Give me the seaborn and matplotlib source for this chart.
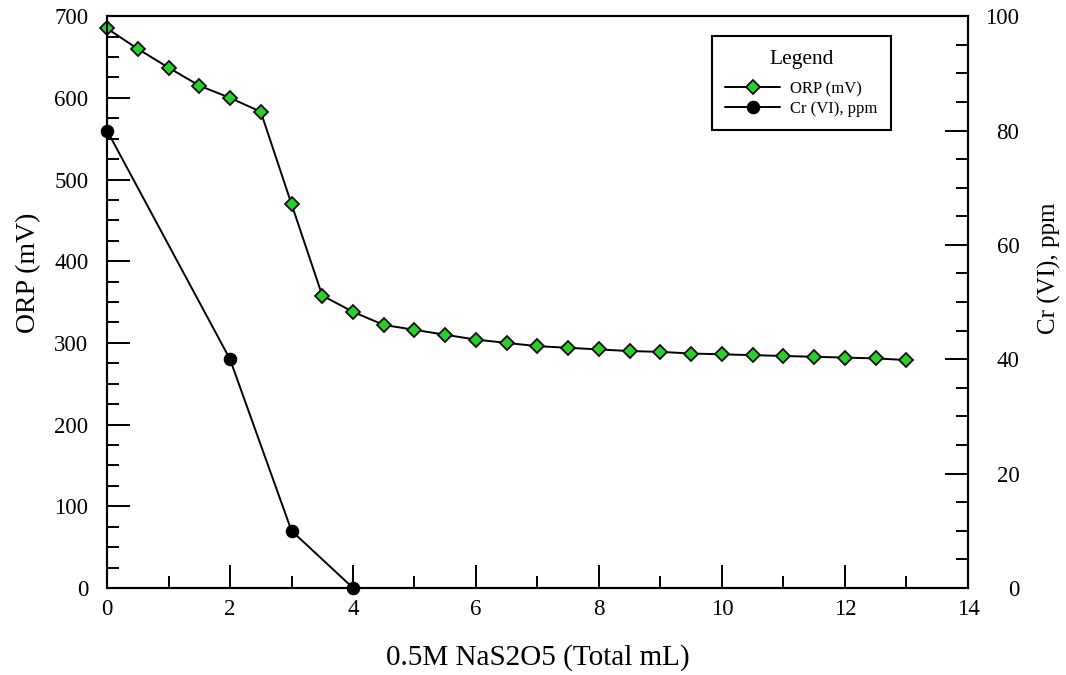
import matplotlib
matplotlib.use("Agg")
import matplotlib.pyplot as plt
import seaborn as sns
import pandas as pd
from matplotlib.ticker import MultipleLocator

# data
orp_ml = [0, 0.5, 1, 1.5, 2, 2.5, 3, 3.5, 4, 4.5, 5, 5.5, 6, 6.5, 7, 7.5,
          8, 8.5, 9, 9.5, 10, 10.5, 11, 11.5, 12, 12.5, 13]
orp_mv = [685, 660, 637, 615, 600, 583, 470, 358, 338, 322, 316, 310, 304,
          300, 296, 294, 292, 290, 289, 287, 286, 285, 284, 283, 282, 281, 279]
cr_ml = [0, 2, 3, 4]
cr_ppm = [80, 40, 10, 0]

sns.set_style("white")
plt.rcParams["font.family"] = ["Liberation Serif", "DejaVu Serif"]
plt.rcParams.update({"text.color": "black", "axes.labelcolor": "black",
                     "xtick.color": "black", "ytick.color": "black"})

df_orp = pd.DataFrame({"mL": orp_ml, "ORP": orp_mv})
df_cr = pd.DataFrame({"mL": cr_ml, "Cr": cr_ppm})

fig = plt.figure(figsize=(10.66, 6.75), dpi=100)
ax = fig.add_axes([0.1004, 0.129, 0.8076, 0.847])
ax2 = ax.twinx()

sns.lineplot(data=df_orp, x="mL", y="ORP", ax=ax, color="black", linewidth=1.4,
             marker="D", markersize=7.5, markerfacecolor="#2ecc2e",
             markeredgecolor="#111111", markeredgewidth=1.3, label="ORP (mV)",
             legend=False, clip_on=False, zorder=5)
sns.lineplot(data=df_cr, x="mL", y="Cr", ax=ax2, color="black", linewidth=1.4,
             marker="o", markersize=9, markerfacecolor="black",
             markeredgecolor="black", label="Cr (VI), ppm", legend=False,
             clip_on=False, zorder=5)

ax.set_xlim(0, 14)
ax.set_ylim(0, 700)
ax2.set_ylim(0, 100)

ax.xaxis.set_major_locator(MultipleLocator(2))
ax.xaxis.set_minor_locator(MultipleLocator(1))
ax.yaxis.set_major_locator(MultipleLocator(100))
ax.yaxis.set_minor_locator(MultipleLocator(25))
ax2.yaxis.set_major_locator(MultipleLocator(20))
ax2.yaxis.set_minor_locator(MultipleLocator(5))

ax.tick_params(axis="x", which="major", direction="in", length=16.5, width=1.4,
               labelsize=16.5, pad=8, bottom=True, top=False)
ax.tick_params(axis="x", which="minor", direction="in", length=8.5, width=1.4,
               bottom=True, top=False)
ax.tick_params(axis="y", which="major", direction="in", length=16.5, width=1.4,
               labelsize=16.5, pad=13.5, left=True, right=False)
ax.tick_params(axis="y", which="minor", direction="in", length=8.5, width=1.4,
               left=True, right=False)
ax2.tick_params(axis="y", which="major", direction="in", length=16.5, width=1.4,
                labelsize=16.5, pad=37, right=True, left=False)
ax2.tick_params(axis="y", which="minor", direction="in", length=8.5, width=1.4,
                right=True, left=False)
for t in ax2.get_yticklabels():
    t.set_horizontalalignment("right")

for a in (ax, ax2):
    for s in a.spines.values():
        s.set_color("black")
        s.set_linewidth(1.5)

ax.set_xlabel("0.5M NaS2O5 (Total mL)", fontsize=21)
ax.xaxis.set_label_coords(0.5, -0.122)
ax.xaxis.label.set_va("center")
ax.set_ylabel("ORP (mV)", fontsize=20)
ax.yaxis.set_label_coords(-0.091, 0.552)
ax.yaxis.label.set_va("center")
ax2.set_ylabel("Cr (VI), ppm", fontsize=18)
ax2.yaxis.set_label_coords(1.095, 0.56)
ax2.yaxis.label.set_va("center")

h1, l1 = ax.get_legend_handles_labels()
h2, l2 = ax2.get_legend_handles_labels()
leg = ax2.legend(h1 + h2, l1 + l2, title="Legend", loc="upper left",
                 bbox_to_anchor=(0.7027, 0.965), fontsize=12, title_fontsize=15.5,
                 fancybox=False, edgecolor="black", framealpha=1,
                 handlelength=3.3, borderpad=0.8, labelspacing=0.22,
                 handletextpad=0.6, borderaxespad=0)
leg.get_frame().set_linewidth(1.5)
# more room between the title and the entries, as in the reference
leg._legend_box.sep = 9

fig.savefig("out.png", dpi=100)
